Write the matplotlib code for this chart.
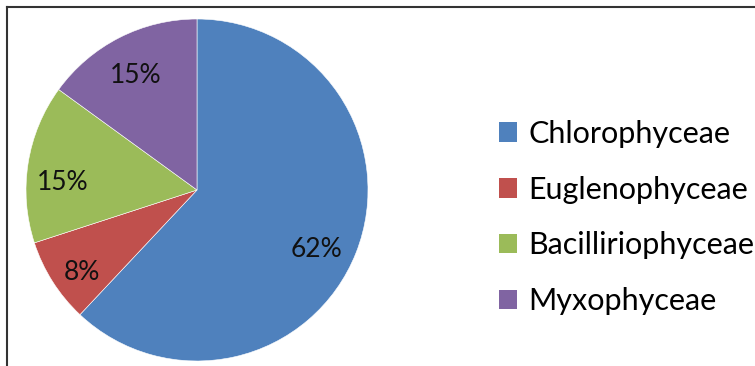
import numpy as np
import matplotlib
matplotlib.use("Agg")
import matplotlib.pyplot as plt
from matplotlib.lines import Line2D
from matplotlib.patches import Patch

categories = ["Chlorophyceae", "Euglenophyceae", "Bacilliriophyceae", "Myxophyceae"]
shares = [62, 8, 15, 15]
colors = ["#4F81BD", "#C0504D", "#9BBB59", "#8064A2"]

# percentage label placement inside each wedge: (radius fraction, angle in degrees)
label_polar = [(0.772, -25.6), (0.82, -145.2), (0.785, 175.9), (0.769, 117.6)]

W, H = 755, 366
fig = plt.figure(figsize=(W / 100, H / 100), dpi=100)
plt.rcParams["font.family"] = ["Lato", "DejaVu Sans"]

# pie area: centre (197,190) px, radius 171 px
cx, cy, r = 197, 190, 171
ax = fig.add_axes([(cx - r) / W, (H - cy - r) / H, 2 * r / W, 2 * r / H])
wedges, texts, autotexts = ax.pie(
    shares, colors=colors, startangle=90, counterclock=False,
    autopct=lambda p: f"{p:.0f}%", pctdistance=0.79, radius=1,
    wedgeprops=dict(edgecolor="white", linewidth=0.4),
    textprops=dict(fontsize=19, color="#111111"),
)
for t, (d, a) in zip(autotexts, label_polar):
    t.set_position((d * np.cos(np.radians(a)), d * np.sin(np.radians(a))))
    t.set_va("center_baseline")

ax.set_xlim(-1, 1)
ax.set_ylim(-1, 1)
ax.set_aspect("equal")
ax.axis("off")

# chart area border (top and left edges)
fig.add_artist(Line2D([7 / W, 7 / W], [0, (H - 7) / H], color="#333333", lw=1.5))
fig.add_artist(Line2D([7 / W, 1], [(H - 7) / H, (H - 7) / H], color="#333333", lw=1.5))

handles = [Patch(facecolor=c, edgecolor="none") for c in colors]
fig.legend(handles, categories, loc="center left",
           bbox_to_anchor=(499 / W, (H - 217.5) / H), frameon=False,
           fontsize=22, handlelength=0.6, handleheight=0.6,
           handletextpad=0.36, labelspacing=0.91, borderaxespad=0,
           borderpad=0)

fig.savefig("out.png", dpi=100)
